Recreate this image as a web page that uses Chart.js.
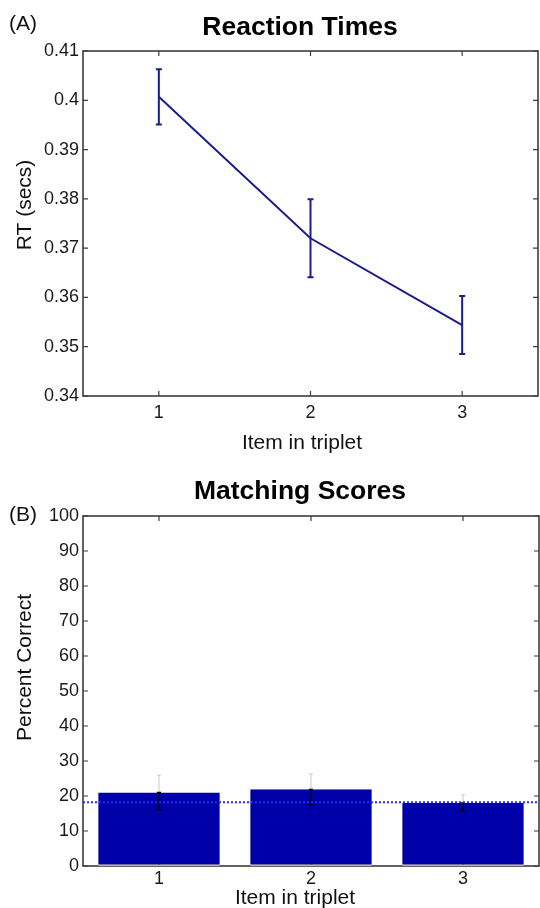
<!DOCTYPE html>
<html>
<head>
<meta charset="utf-8">
<script src="https://cdn.jsdelivr.net/npm/chart.js@4.4.1/dist/chart.umd.min.js"></script>
<style>
html,body{margin:0;padding:0;width:540px;height:908px;overflow:hidden;background:#fff;}
.box{position:absolute;left:0;width:540px;height:470px;}
</style>
</head>
<body>
<div class="box" style="top:0"><canvas id="c1"></canvas></div>
<div class="box" style="top:454px"><canvas id="c2"></canvas></div>
<script>
// ---------- data ----------
const categories = ['1', '2', '3'];
const rtMean = [0.4007, 0.3720, 0.3544];
const rtErr = [0.0056, 0.0079, 0.0059];
const rtTicks = [0.34, 0.35, 0.36, 0.37, 0.38, 0.39, 0.40, 0.41];
const rtTickLabels = ['0.34', '0.35', '0.36', '0.37', '0.38', '0.39', '0.4', '0.41'];
const pctMean = [21.0, 21.9, 18.0];
const pctErr = [5.0, 4.4, 2.3];
const pctTicks = [0, 10, 20, 30, 40, 50, 60, 70, 80, 90, 100];
const pctTickLabels = ['0', '10', '20', '30', '40', '50', '60', '70', '80', '90', '100'];
const chanceLevel = 18.2;

// ---------- styling ----------
const FONT = '"Liberation Sans", Arial, Helvetica, sans-serif';
Chart.defaults.font.family = FONT;
Chart.defaults.color = '#1a1a1a';

const framePlugin = {
  id: 'frame',
  beforeDatasetsDraw(chart) {
    const {ctx, chartArea: a, scales} = chart;
    const x = scales.x, y = scales.y;
    ctx.save();
    ctx.strokeStyle = '#3c3c3c';
    ctx.lineWidth = 1.6;
    ctx.strokeRect(a.left, a.top, a.right - a.left, a.bottom - a.top);
    const L = 5;
    ctx.lineWidth = 1.2;
    ctx.beginPath();
    x.ticks.forEach((t, i) => {
      const px = x.getPixelForTick(i);
      ctx.moveTo(px, a.bottom); ctx.lineTo(px, a.bottom - L);
      ctx.moveTo(px, a.top); ctx.lineTo(px, a.top + L);
    });
    y.ticks.forEach((t, i) => {
      const py = y.getPixelForTick(i);
      ctx.moveTo(a.left, py); ctx.lineTo(a.left + L, py);
      ctx.moveTo(a.right, py); ctx.lineTo(a.right - L, py);
    });
    ctx.stroke();
    ctx.restore();
  }
};

const textPlugin = {
  id: 'texts',
  afterDraw(chart, args, opts) {
    const ctx = chart.ctx, a = chart.chartArea;
    ctx.save();
    ctx.fillStyle = '#000';
    ctx.font = 'bold 26.5px ' + FONT;
    ctx.textAlign = 'center';
    ctx.textBaseline = 'alphabetic';
    ctx.fillText(opts.title, opts.titleX, opts.titleY);
    ctx.fillStyle = '#111';
    ctx.font = '21px ' + FONT;
    ctx.textAlign = 'left';
    ctx.fillText(opts.panel, 9, opts.panelY);
    ctx.textAlign = 'center';
    ctx.textBaseline = 'middle';
    ctx.fillText(opts.xTitle, opts.xTitleX, opts.xTitleY);
    ctx.translate(opts.yTitleX, (a.top + a.bottom) / 2 + opts.yTitleShift);
    ctx.rotate(-Math.PI / 2);
    ctx.fillText(opts.yTitle, 0, 0);
    ctx.restore();
  }
};

const rtErrPlugin = {
  id: 'rtErr',
  afterDatasetsDraw(chart) {
    const {ctx, scales: {x, y}} = chart;
    ctx.save();
    ctx.strokeStyle = '#1c1c8a';
    ctx.lineWidth = 2;
    ctx.beginPath();
    rtMean.forEach((m, i) => {
      const px = x.getPixelForValue(i);
      const hi = y.getPixelForValue(m + rtErr[i]);
      const lo = y.getPixelForValue(m - rtErr[i]);
      ctx.moveTo(px, hi); ctx.lineTo(px, lo);
      ctx.moveTo(px - 3, hi); ctx.lineTo(px + 3, hi);
      ctx.moveTo(px - 3, lo); ctx.lineTo(px + 3, lo);
    });
    ctx.stroke();
    ctx.restore();
  }
};

const pctExtrasPlugin = {
  id: 'pctExtras',
  afterDatasetsDraw(chart) {
    const {ctx, chartArea: a, scales: {y}} = chart;
    const meta = chart.getDatasetMeta(0);
    ctx.save();
    pctMean.forEach((m, i) => {
      const px = meta.data[i].x;
      const top = y.getPixelForValue(m);
      const hi = y.getPixelForValue(m + pctErr[i]);
      const lo = y.getPixelForValue(m - pctErr[i]);
      ctx.lineWidth = 1;
      ctx.strokeStyle = '#c8c8c8';
      ctx.beginPath();
      ctx.moveTo(px, top); ctx.lineTo(px, hi);
      ctx.moveTo(px - 2, hi); ctx.lineTo(px + 2, hi);
      ctx.stroke();
      ctx.strokeStyle = '#000';
      ctx.lineWidth = 1.3;
      ctx.beginPath();
      ctx.moveTo(px, top); ctx.lineTo(px, lo);
      ctx.moveTo(px - 3, lo); ctx.lineTo(px + 3, lo);
      ctx.moveTo(px - 2, top); ctx.lineTo(px + 2, top);
      ctx.stroke();
    });
    const cy = y.getPixelForValue(chanceLevel);
    ctx.strokeStyle = '#2a2aff';
    ctx.lineWidth = 2;
    ctx.setLineDash([2, 2]);
    ctx.beginPath();
    ctx.moveTo(a.left, cy); ctx.lineTo(a.right, cy);
    ctx.stroke();
    ctx.restore();
  }
};

function xAxis(tickPad, height) {
  return {
    type: 'category',
    labels: categories,
    offset: true,
    grid: {display: false, drawTicks: false},
    border: {display: false},
    ticks: {padding: tickPad, font: {size: 18}, color: '#1a1a1a', maxRotation: 0, autoSkip: false},
    title: {display: false},
    afterFit(ax) { ax.height = height; }
  };
}
function yAxis(min, max, ticks, labels) {
  return {
    min: min, max: max,
    afterBuildTicks(ax) { ax.ticks = ticks.map(v => ({value: v})); },
    grid: {display: false, drawTicks: false},
    border: {display: false},
    ticks: {padding: 4, font: {size: 18}, color: '#1a1a1a', callback: (v, i) => labels[i]},
    afterFit(ax) { ax.width = 83; }
  };
}

new Chart(document.getElementById('c1'), {
  type: 'line',
  data: {
    labels: categories,
    datasets: [{data: rtMean, borderColor: '#1c1c8a', borderWidth: 2, pointRadius: 0, tension: 0, fill: false}]
  },
  options: {
    responsive: true, maintainAspectRatio: false, animation: false,
    layout: {padding: {left: 0, right: 2, top: 51, bottom: 0}},
    scales: {
      x: xAxis(6, 74),
      y: yAxis(0.34, 0.41, rtTicks, rtTickLabels)
    },
    plugins: {
      legend: {display: false},
      tooltip: {enabled: false},
      title: {display: false},
      texts: {title: 'Reaction Times', titleX: 300, titleY: 34.5,
              panel: '(A)', panelY: 30,
              xTitle: 'Item in triplet', xTitleX: 302, xTitleY: 443,
              yTitle: 'RT (secs)', yTitleX: 25, yTitleShift: -18.5}
    }
  },
  plugins: [framePlugin, rtErrPlugin, textPlugin]
});

new Chart(document.getElementById('c2'), {
  type: 'bar',
  data: {
    labels: categories,
    datasets: [{data: pctMean, backgroundColor: '#0000a8', borderColor: '#c8c040',
                borderWidth: {top: 0, left: 0, right: 0, bottom: 1.5}, borderSkipped: false,
                barPercentage: 0.8, categoryPercentage: 1}]
  },
  options: {
    responsive: true, maintainAspectRatio: false, animation: false,
    layout: {padding: {left: 0, right: 1, top: 62, bottom: 0}},
    scales: {
      x: xAxis(2, 58),
      y: yAxis(0, 100, pctTicks, pctTickLabels)
    },
    plugins: {
      legend: {display: false},
      tooltip: {enabled: false},
      title: {display: false},
      texts: {title: 'Matching Scores', titleX: 300, titleY: 45,
              panel: '(B)', panelY: 67,
              xTitle: 'Item in triplet', xTitleX: 295, xTitleY: 444,
              yTitle: 'Percent Correct', yTitleX: 25, yTitleShift: -23.5}
    }
  },
  plugins: [framePlugin, pctExtrasPlugin, textPlugin]
});
</script>
</body>
</html>
